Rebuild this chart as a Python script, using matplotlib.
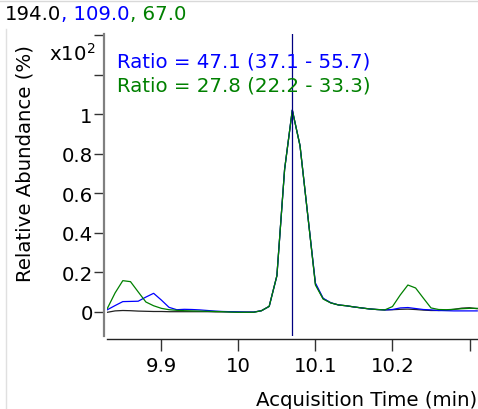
import matplotlib
matplotlib.use("Agg")
import matplotlib.pyplot as plt
from matplotlib.lines import Line2D

# ---- data ----
times = [9.83, 9.84, 9.85, 9.86, 9.87, 9.88, 9.89, 9.90, 9.91, 9.92,
         9.93, 9.94, 9.95, 9.96, 9.97, 9.98, 9.99, 10.00, 10.01, 10.02,
         10.03, 10.04, 10.05, 10.06, 10.07, 10.08, 10.09, 10.10, 10.11, 10.12,
         10.13, 10.14, 10.15, 10.16, 10.17, 10.18, 10.19, 10.20, 10.21, 10.22,
         10.23, 10.24, 10.25, 10.26, 10.27, 10.28, 10.29, 10.30, 10.31]

ion_194 = [-0.003, 0.004, 0.006, 0.005, 0.003, 0.002, 0.001, 0.001, 0.000, 0.000,
           0.000, 0.000, 0.000, 0.000, -0.001, -0.001, -0.001, -0.002, -0.002, -0.002,
           0.005, 0.027, 0.182, 0.72, 1.02, 0.84, 0.49, 0.14, 0.066, 0.045,
           0.034, 0.030, 0.024, 0.019, 0.014, 0.011, 0.009, 0.010, 0.012, 0.013,
           0.011, 0.008, 0.006, 0.006, 0.008, 0.012, 0.018, 0.020, 0.015]

ion_109 = [0.010, 0.031, 0.051, 0.052, 0.053, 0.074, 0.093, 0.059, 0.022, 0.010,
           0.012, 0.011, 0.009, 0.006, 0.003, 0.001, 0.000, -0.001, -0.002, -0.002,
           0.005, 0.027, 0.182, 0.72, 1.02, 0.84, 0.49, 0.145, 0.068, 0.045,
           0.034, 0.030, 0.024, 0.019, 0.014, 0.011, 0.009, 0.011, 0.019, 0.021,
           0.016, 0.011, 0.009, 0.006, 0.005, 0.004, 0.004, 0.004, 0.004]

ion_67 = [0.017, 0.095, 0.157, 0.152, 0.100, 0.049, 0.030, 0.017, 0.010, 0.007,
          0.005, 0.004, 0.003, 0.002, 0.001, 0.000, -0.002, -0.003, -0.003, -0.003,
          0.005, 0.027, 0.182, 0.72, 1.02, 0.84, 0.49, 0.135, 0.064, 0.044,
          0.034, 0.030, 0.024, 0.019, 0.014, 0.011, 0.009, 0.026, 0.084, 0.135,
          0.120, 0.069, 0.019, 0.011, 0.010, 0.012, 0.015, 0.017, 0.017]

marker_time = 10.07
ytick_values = [0, 0.2, 0.4, 0.6, 0.8, 1.0, 1.2, 1.4]
ytick_labels = ["0", "0.2", "0.4", "0.6", "0.8", "1", "", ""]
xtick_values = [9.9, 10.0, 10.1, 10.2, 10.3]
xtick_labels = ["9.9", "10", "10.1", "10.2", ""]
title_parts = ["194.0", ", 109.0", ", 67.0"]
title_colors = ["black", "#0000ff", "#008000"]

W, H = 478, 410
DPI = 100
FS = 14.2

plt.rcParams['font.family'] = ['DejaVu Sans']

fig = plt.figure(figsize=(W / DPI, H / DPI), dpi=DPI)
ax = fig.add_axes([107 / W, 1 - 337 / H, (W - 107) / W, (337 - 35) / H])

ax.plot(times, ion_194, color='#222222', lw=0.9)
ax.plot(times, ion_109, color='#0000ff', lw=0.9)
ax.plot(times, ion_67, color='#008000', lw=0.9)
ax.axvline(marker_time, color='#000080', lw=0.9)

ax.set_xlim(9.8295, 10.311)
ax.set_ylim(-0.123, 1.405)

for s in ['top', 'right']:
    ax.spines[s].set_visible(False)
ax.spines['left'].set_position(('outward', 2.2))
ax.spines['bottom'].set_position(('outward', 2.2))
ax.spines['left'].set_color('#808080')
ax.spines['left'].set_linewidth(1.6)
ax.spines['bottom'].set_color('#222222')
ax.spines['bottom'].set_linewidth(1.0)

ax.set_yticks(ytick_values)
ax.set_yticklabels(ytick_labels)
ax.set_xticks(xtick_values)
ax.set_xticklabels(xtick_labels)
ax.tick_params(axis='y', length=7.5, width=1.0, color='#333333', labelsize=FS, pad=0.5)
ax.tick_params(axis='x', length=8.5, width=1.0, color='#333333', labelsize=FS, pad=4)

# multicolour title
fig.canvas.draw()
r = fig.canvas.get_renderer()
x0 = 5
for txt, col in zip(title_parts, title_colors):
    tt = fig.text(x0 / W, 1 - 15 / H, txt, color=col, fontsize=FS, ha='left', va='center')
    bb = tt.get_window_extent(renderer=r)
    x0 = bb.x1

fig.text(117 / W, 1 - 62 / H, "Ratio = 47.1 (37.1 - 55.7)", color='#0000ff', fontsize=FS,
         ha='left', va='center')
fig.text(117 / W, 1 - 86 / H, "Ratio = 27.8 (22.2 - 33.3)", color='#008000', fontsize=FS,
         ha='left', va='center')
fig.text(95 / W, 1 - 54 / H, r"x10$^{2}$", color='black', fontsize=FS, ha='right', va='center')
fig.text(25 / W, 1 - 163 / H, "Relative Abundance (%)", color='black', fontsize=FS,
         rotation=90, ha='center', va='center')
fig.text(256 / W, 1 - 401 / H, "Acquisition Time (min)", color='black', fontsize=FS,
         ha='left', va='center')

# light frame lines
fig.add_artist(Line2D([0, 1], [1 - 1.5 / H, 1 - 1.5 / H], transform=fig.transFigure,
                      color='#d9d9d9', lw=1.0))
fig.add_artist(Line2D([5.5 / W, 5.5 / W], [0, 1 - 30 / H], transform=fig.transFigure,
                      color='#e0e0e0', lw=1.0))

fig.savefig("out.png", dpi=DPI)
